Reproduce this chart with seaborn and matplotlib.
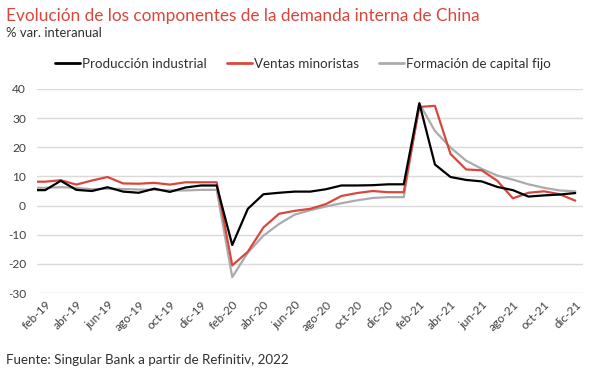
import matplotlib
matplotlib.use("Agg")
import matplotlib.pyplot as plt
import seaborn as sns
import pandas as pd
from matplotlib.lines import Line2D

meses = ["ene-19", "feb-19", "mar-19", "abr-19", "may-19", "jun-19", "jul-19", "ago-19", "sep-19", "oct-19", "nov-19", "dic-19",
         "ene-20", "feb-20", "mar-20", "abr-20", "may-20", "jun-20", "jul-20", "ago-20", "sep-20", "oct-20", "nov-20", "dic-20",
         "ene-21", "feb-21", "mar-21", "abr-21", "may-21", "jun-21", "jul-21", "ago-21", "sep-21", "oct-21", "nov-21", "dic-21"]

produccion = [5.3, 5.3, 8.5, 5.4, 5.0, 6.3, 4.8, 4.4, 5.8, 4.7, 6.2, 6.9,
              6.9, -13.5, -1.1, 3.9, 4.4, 4.8, 4.8, 5.6, 6.9, 6.9, 7.0, 7.3,
              7.3, 35.1, 14.1, 9.8, 8.8, 8.3, 6.4, 5.3, 3.1, 3.5, 3.8, 4.3]
ventas = [8.2, 8.2, 8.7, 7.2, 8.6, 9.8, 7.6, 7.5, 7.8, 7.2, 8.0, 8.0,
          8.0, -20.5, -15.8, -7.5, -2.8, -1.8, -1.1, 0.5, 3.3, 4.3, 5.0, 4.6,
          4.6, 33.8, 34.2, 17.7, 12.4, 12.1, 8.5, 2.5, 4.4, 4.9, 3.9, 1.7]
capital = [6.1, 6.1, 6.3, 6.1, 5.6, 5.8, 5.7, 5.5, 5.4, 5.2, 5.2, 5.4,
           5.4, -24.5, -16.1, -10.3, -6.3, -3.1, -1.6, -0.3, 0.8, 1.8, 2.6, 2.9,
           2.9, 35.0, 25.6, 19.9, 15.4, 12.6, 10.3, 8.9, 7.3, 6.1, 5.2, 4.9]

series = ["Producción industrial", "Ventas minoristas", "Formación de capital fijo"]
colores = ["#000000", "#D9473C", "#ABABAB"]
yticks = [-30, -20, -10, 0, 10, 20, 30, 40]
tick_labels = meses[1::2]

sns.set_theme(style="white")
plt.rcParams['font.family'] = ['Lato', 'DejaVu Sans']

df = pd.DataFrame({
    "x": list(range(len(meses))) * 3,
    "valor": produccion + ventas + capital,
    "serie": [series[0]] * len(meses) + [series[1]] * len(meses) + [series[2]] * len(meses),
})

fig = plt.figure(figsize=(6, 3.72), dpi=100)
ax = fig.add_axes([0.062, 0.212, 0.910, 0.549])

order_draw = [series[2], series[1], series[0]]
sns.lineplot(data=df, x="x", y="valor", hue="serie", hue_order=order_draw,
             palette={series[0]: colores[0], series[1]: colores[1], series[2]: colores[2]},
             linewidth=1.6, ax=ax, legend=False, sort=False)

ax.set_xlim(0.49, 35.51)
ax.set_ylim(-30, 40)
ax.set_yticks(yticks)
ax.set_yticklabels([str(v) for v in yticks])
ax.set_xticks(list(range(1, len(meses), 2)))
ax.set_xticklabels(tick_labels, rotation=45, ha="right", rotation_mode="anchor")
ax.set_xlabel("")
ax.set_ylabel("")
ax.grid(axis="y", color="#DADADA", linewidth=1)
ax.grid(axis="x", visible=False)
for s in ax.spines.values():
    s.set_visible(False)
ax.tick_params(axis="both", length=0, labelsize=8.6, colors="#404040")
ax.tick_params(axis="y", pad=8)
ax.tick_params(axis="x", pad=4)

fig.text(0.010, 0.956, "Evolución de los componentes de la demanda interna de China",
         color="#D9473C", fontsize=12.4, va="center", ha="left")
fig.text(0.010, 0.912, "% var. interanual", color="#303030", fontsize=9.4, va="center", ha="left")
fig.text(0.010, 0.032, "Fuente: Singular Bank a partir de Refinitiv, 2022", color="#303030",
         fontsize=9.6, va="center", ha="left")

handles = [Line2D([0], [0], color=c, lw=2) for c in colores]
fig.legend(handles, series, loc="center", bbox_to_anchor=(0.505, 0.829), ncol=3, frameon=False,
           fontsize=9.6, handlelength=1.9, handletextpad=0.15, columnspacing=1.5,
           labelcolor="#303030")

fig.savefig("out.png", dpi=100)
